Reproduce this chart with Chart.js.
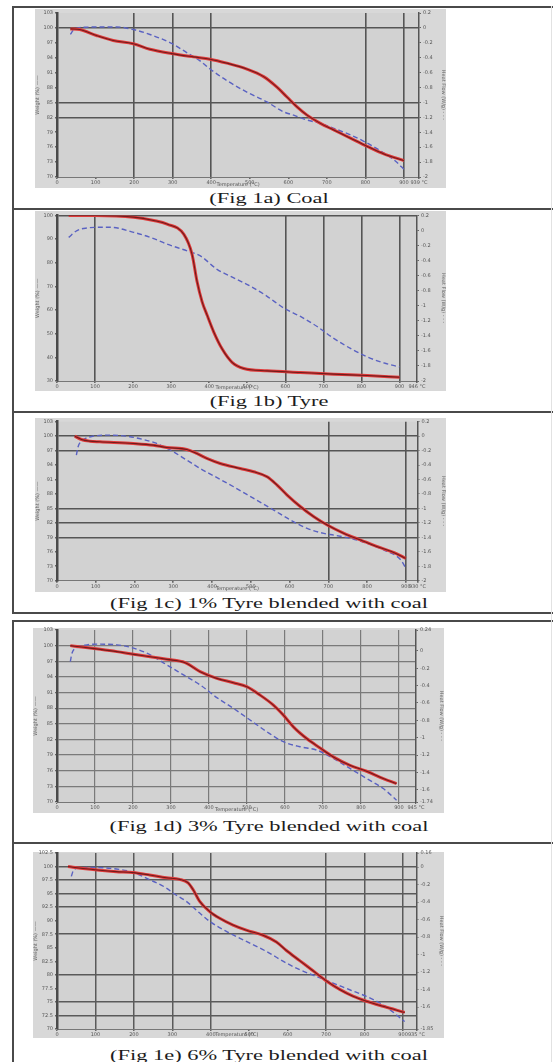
<!DOCTYPE html>
<html><head><meta charset="utf-8">
<script src="https://cdn.jsdelivr.net/npm/chart.js@4.4.0/dist/chart.umd.min.js"></script>
<style>
html,body{margin:0;padding:0;background:#fff;width:553px;height:1062px;overflow:hidden;position:relative;}
.hl{position:absolute;left:12px;width:541px;height:2px;background:#4a4a4a;}
.vl{position:absolute;left:12px;width:2px;background:#4a4a4a;}
.box{position:absolute;background:#d8d8d8;}
.cv{position:absolute;filter:blur(0.3px);}
.cap{position:absolute;left:0;width:538px;height:16px;line-height:16px;text-align:center;font-family:"Liberation Serif","Times New Roman",serif;font-size:14px;color:#1c1c1c;transform-origin:269px 50%;transform:scaleX(1.6);white-space:nowrap;}
</style></head>
<body>
<div class="hl" style="top:6px"></div>
<div class="vl" style="top:6px;height:608px"></div>
<div class="hl" style="top:207.5px"></div>
<div class="hl" style="top:410.5px"></div>
<div class="hl" style="top:612px"></div>
<div class="hl" style="top:619.5px"></div>
<div class="vl" style="top:619.5px;height:443px"></div>
<div class="hl" style="top:842px"></div>
<div style="position:absolute;left:551px;top:6px;width:1px;height:1056px;background:#e2e2e2"></div>

<div class="cap" style="top:191px">(Fig 1a) Coal</div>
<div class="cap" style="top:393.5px">(Fig 1b) Tyre</div>
<div class="cap" style="top:596px">(Fig 1c) 1% Tyre blended with coal</div>
<div class="cap" style="top:819px">(Fig 1d) 3% Tyre blended with coal</div>
<div class="cap" style="top:1048px">(Fig 1e) 6% Tyre blended with coal</div>

<script>
// ---------- DATA ----------
const tempTicks = [0, 100, 200, 300, 400, 500, 600, 700, 800, 900];
const tempTickLabels = ["0", "100", "200", "300", "400", "500", "600", "700", "800", "900"];

const weightTicksA = [70, 73, 76, 79, 82, 85, 88, 91, 94, 97, 100, 103];
const weightTicksTyre = [30, 40, 50, 60, 70, 80, 90, 100];
const weightTicksE = [70, 72.5, 75, 77.5, 80, 82.5, 85, 87.5, 90, 92.5, 95, 97.5, 100, 102.5];
const heatTicksA = [-2.0, -1.8, -1.6, -1.4, -1.2, -1.0, -0.8, -0.6, -0.4, -0.2, 0, 0.2];
const heatTicksD = [-1.74, -1.6, -1.4, -1.2, -1.0, -0.8, -0.6, -0.4, -0.2, 0, 0.24];
const heatTicksE = [-1.85, -1.6, -1.4, -1.2, -1.0, -0.8, -0.6, -0.4, -0.2, 0, 0.16];

// Fig 1a Coal
const coalWeightT = [34.7, 59.0, 102.3, 145.7, 197.7, 241.0, 297.4, 353.8, 397.1, 440.5, 492.5, 535.9, 570.6, 596.6, 622.6, 648.6, 683.3, 718.0, 761.3, 804.7, 848.0, 900.0];
const coalWeight = [99.8, 99.67, 98.48, 97.48, 96.82, 95.70, 94.83, 94.17, 93.71, 92.91, 91.72, 90.20, 88.08, 86.09, 84.11, 82.45, 80.79, 79.47, 77.81, 76.16, 74.64, 73.31];
const coalHeatT = [34.7, 41.6, 54.6, 76.3, 111.0, 154.3, 197.7, 241.0, 297.4, 336.4, 371.1, 397.1, 440.5, 492.5, 544.5, 587.9, 613.9, 648.6, 683.3, 718.0, 761.3, 804.7, 848.0, 878.4, 900.0];
const coalHeat = [-0.088, -0.035, 0.0, 0.009, 0.013, 0.013, -0.022, -0.088, -0.208, -0.331, -0.442, -0.552, -0.706, -0.861, -0.993, -1.126, -1.170, -1.236, -1.280, -1.347, -1.435, -1.545, -1.678, -1.788, -1.898];

// Fig 1b Tyre
const tyreWeightT = [30.7, 100.8, 201.5, 254.1, 289.2, 333.0, 354.9, 368.0, 381.2, 394.3, 411.9, 433.8, 460.1, 490.7, 552.1, 639.7, 727.3, 815.0, 900.0];
const tyreWeight = [100, 100, 99.3, 97.9, 96.4, 92.1, 83.6, 72.1, 63.6, 57.9, 50.7, 43.6, 37.9, 35.3, 34.3, 33.6, 32.9, 32.3, 31.6];
const tyreHeatT = [30.7, 52.6, 78.9, 113.9, 140.2, 201.5, 245.4, 289.2, 341.8, 376.8, 420.6, 464.4, 508.3, 552.1, 595.9, 639.7, 683.5, 727.3, 771.1, 815.0, 858.8, 900.0];
const tyreHeat = [-0.091, 0.0, 0.034, 0.043, 0.043, -0.024, -0.091, -0.180, -0.270, -0.337, -0.516, -0.628, -0.740, -0.874, -1.030, -1.142, -1.276, -1.433, -1.567, -1.679, -1.760, -1.813];

// Fig 1c 1% tyre
const blend1WeightT = [45.7, 63.0, 84.6, 110.5, 196.7, 248.5, 283.0, 334.8, 360.7, 386.6, 421.1, 472.9, 507.4, 541.9, 567.8, 593.7, 628.2, 662.7, 697.2, 740.4, 783.5, 826.7, 869.8, 900.0];
const blend1Weight = [100, 99.31, 98.96, 98.83, 98.48, 98.13, 97.65, 97.24, 96.41, 95.37, 94.33, 93.30, 92.61, 91.57, 89.84, 87.77, 85.35, 83.28, 81.55, 79.82, 78.44, 77.06, 75.81, 74.64];
const blend1HeatT = [50.0, 54.4, 67.3, 93.2, 136.3, 179.5, 222.6, 257.1, 300.3, 334.8, 369.3, 403.8, 455.6, 507.4, 559.2, 602.3, 645.4, 688.6, 714.5, 757.6, 800.8, 843.9, 887.1, 900.0];
const blend1Heat = [-0.263, -0.147, -0.055, 0.0, 0.014, 0.0, -0.046, -0.101, -0.217, -0.332, -0.447, -0.548, -0.700, -0.862, -1.023, -1.161, -1.276, -1.346, -1.369, -1.415, -1.484, -1.576, -1.714, -1.829];

// Fig 1d 3% tyre
const blend3WeightT = [35.1, 70.1, 113.9, 157.7, 201.5, 245.4, 289.2, 337.4, 376.8, 420.6, 464.4, 499.5, 534.5, 569.6, 595.9, 622.2, 657.2, 692.3, 727.3, 771.1, 815.0, 858.8, 893.8];
const blend3Weight = [100, 99.68, 99.29, 98.85, 98.33, 97.88, 97.37, 96.73, 95.00, 93.72, 92.88, 92.12, 90.51, 88.59, 86.67, 84.42, 82.18, 80.38, 78.65, 77.05, 75.90, 74.49, 73.53];
const blend3HeatT = [35.1, 39.4, 52.6, 78.9, 113.9, 157.7, 201.5, 245.4, 289.2, 333.0, 376.8, 420.6, 464.4, 508.3, 552.1, 595.9, 639.7, 683.5, 727.3, 771.1, 815.0, 858.8, 893.8];
const blend3Heat = [-0.123, -0.027, 0.038, 0.069, 0.077, 0.069, 0.031, -0.046, -0.162, -0.277, -0.392, -0.538, -0.662, -0.796, -0.931, -1.046, -1.104, -1.142, -1.238, -1.354, -1.469, -1.585, -1.719];

// Fig 1e 6% tyre
const blend6WeightT = [28.6, 67.6, 111.0, 154.3, 197.7, 241.0, 284.4, 319.1, 340.8, 353.8, 371.1, 397.1, 423.1, 457.8, 492.5, 535.9, 570.6, 596.6, 631.2, 665.9, 700.6, 735.3, 769.9, 804.7, 848.0, 904.4];
const blend6Weight = [100, 99.63, 99.31, 99.06, 98.88, 98.44, 97.94, 97.63, 97.00, 95.75, 93.56, 91.69, 90.44, 89.19, 88.25, 87.31, 86.06, 84.50, 82.63, 80.75, 78.88, 77.31, 76.06, 75.13, 74.19, 73.06];
const blend6HeatT = [37.3, 41.6, 54.6, 93.6, 154.3, 197.7, 241.0, 284.4, 301.8, 336.4, 371.1, 397.1, 440.5, 492.5, 544.5, 596.6, 631.2, 674.6, 718.0, 761.3, 804.7, 848.0, 904.4];
const blend6Heat = [-0.107, -0.050, -0.011, -0.004, -0.023, -0.061, -0.145, -0.240, -0.297, -0.392, -0.526, -0.621, -0.735, -0.850, -0.964, -1.097, -1.173, -1.250, -1.326, -1.402, -1.478, -1.574, -1.764];

const tempMax = [939, 946, 930, 945, 935];

// ---------- LAYOUT / STYLE ----------
const panels = [
  {box:[35,9,411,179], plot:[57,13,419,177], xMax:tempMax[0], wT:coalWeightT, w:coalWeight, hT:coalHeatT, h:coalHeat,
   wTicks:weightTicksA, hTicks:heatTicksA, gx:[200,300,400,800,900], gy:[100,85,82], gridColor:'#555', gridW:1.6},
  {box:[35,211,411,180], plot:[57,215.5,417,381], xMax:tempMax[1], wT:tyreWeightT, w:tyreWeight, hT:tyreHeatT, h:tyreHeat,
   wTicks:weightTicksTyre, hTicks:heatTicksA, gx:[100,600,700,800,900], gy:[100], gridColor:'#555', gridW:1.6},
  {box:[35,418,411,174], plot:[57,421.7,417.5,580.7], xMax:tempMax[2], wT:blend1WeightT, w:blend1Weight, hT:blend1HeatT, h:blend1Heat,
   wTicks:weightTicksA, hTicks:heatTicksA, gx:[700,900], gy:[100,97,85,82,79], gridColor:'#555', gridW:1.6},
  {box:[33,628,411,185], plot:[57,630,416,802], xMax:tempMax[3], wT:blend3WeightT, w:blend3Weight, hT:blend3HeatT, h:blend3Heat,
   wTicks:weightTicksA, hTicks:heatTicksD, gx:[100,200,300,400,500,600,700,800,900], gy:[73,76,79,82,85,88,91,94,97,100], gridColor:'#7a7a7a', gridW:1.2},
  {box:[33,852,411,186], plot:[57,853,416.5,1029], xMax:tempMax[4], wT:blend6WeightT, w:blend6Weight, hT:blend6HeatT, h:blend6Heat,
   wTicks:weightTicksE, hTicks:heatTicksE, gx:[100,200,300,400,700,800,900], gy:[100,97.5,95,92.5,87.5,80,75,72.5], gridColor:'#5a5a5a', gridW:1.5}
];

const bgPlugin = {
  id:'bg',
  beforeDraw(chart){
    const a = chart.chartArea, c = chart.ctx;
    c.save(); c.fillStyle = '#d2d2d2'; c.fillRect(a.left, a.top, a.right-a.left, a.bottom-a.top); c.restore();
  }
};

function near(v, list){ return list.some(t => Math.abs(t - v) < 1e-6); }
const FONT = {family:'DejaVu Sans', size:5};

panels.forEach(p => {
  const [bx, by, bw, bh] = p.box;
  const [pl, pt, pr, pb] = p.plot;
  const box = document.createElement('div');
  box.className = 'box';
  box.style.cssText = `left:${bx}px;top:${by}px;width:${bw}px;height:${bh}px`;
  document.body.appendChild(box);
  const cv = document.createElement('canvas');
  const cTop = by - 6;
  cv.width = bw; cv.height = bh + 12;
  cv.className = 'cv';
  cv.style.cssText = `left:${bx}px;top:${cTop}px;width:${bw}px;height:${bh+12}px`;
  document.body.appendChild(cv);

  const xVals = tempTicks.concat([p.xMax]);
  const xLabels = tempTickLabels.concat([p.xMax + ' °C']);
  const wPts = p.wT.map((x, i) => ({x, y: p.w[i]}));
  const hPts = p.hT.map((x, i) => ({x, y: p.h[i]}));

  new Chart(cv.getContext('2d'), {
    type: 'line',
    data: { datasets: [
      {label:'Weight core', data:wPts, yAxisID:'y', borderColor:'#701c1c', borderWidth:1.1, pointRadius:0, cubicInterpolationMode:'monotone'},
      {label:'Weight (%)', data:wPts, yAxisID:'y', borderColor:'#e03a3a', borderWidth:3, pointRadius:0, cubicInterpolationMode:'monotone'},
      {label:'Heat Flow', data:hPts, yAxisID:'y1', borderColor:'#5a62c2', borderWidth:1.4, borderDash:[5,3], pointRadius:0, cubicInterpolationMode:'monotone'}
    ]},
    options: {
      responsive:false, animation:false, devicePixelRatio:1,
      layout:{padding:{top:pt - cTop, bottom:6, left:0, right:0}},
      plugins:{legend:{display:false}, tooltip:{enabled:false}},
      scales:{
        x:{type:'linear', min:0, max:p.xMax,
          afterBuildTicks:a => { a.ticks = xVals.map(v => ({value:v})); },
          afterFit:s => { s.height = by + bh - pb; },
          ticks:{autoSkip:false, maxRotation:0, minRotation:0, padding:1, font:FONT, color:'#555', callback:(v, i) => xLabels[i]},
          grid:{color:c => (c.tick && near(c.tick.value, p.gx)) ? p.gridColor : 'rgba(0,0,0,0)', lineWidth:p.gridW, tickLength:2, tickColor:'#666'},
          border:{display:true, color:'#777', width:1},
          title:{display:true, text:'Temperature (°C)', font:FONT, color:'#555', padding:{top:0, bottom:0}}
        },
        y:{position:'left', min:p.wTicks[0], max:p.wTicks[p.wTicks.length-1],
          afterBuildTicks:a => { a.ticks = p.wTicks.map(v => ({value:v})); },
          afterFit:s => { s.width = pl - bx; },
          ticks:{autoSkip:false, padding:2, font:FONT, color:'#555', callback:(v, i) => String(p.wTicks[i])},
          grid:{color:c => (c.tick && near(c.tick.value, p.gy)) ? p.gridColor : 'rgba(0,0,0,0)', lineWidth:p.gridW, tickLength:2, tickColor:'#666'},
          border:{display:true, color:'#4a4a4a', width:2.5},
          title:{display:true, text:'Weight (%) ——', font:FONT, color:'#666', padding:{top:0, bottom:0}}
        },
        y1:{position:'right', min:p.hTicks[0], max:p.hTicks[p.hTicks.length-1],
          afterBuildTicks:a => { a.ticks = p.hTicks.map(v => ({value:v})); },
          afterFit:s => { s.width = bx + bw - pr; },
          ticks:{autoSkip:false, padding:2, font:FONT, color:'#555', callback:(v, i) => String(p.hTicks[i])},
          grid:{drawOnChartArea:false, tickLength:2, tickColor:'#666', color:'#666'},
          border:{display:true, color:'#555', width:1.5},
          title:{display:true, text:'Heat Flow (W/g) - - -', font:FONT, color:'#666', padding:{top:0, bottom:2}}
        }
      }
    },
    plugins:[bgPlugin]
  });
});
</script>
</body></html>
